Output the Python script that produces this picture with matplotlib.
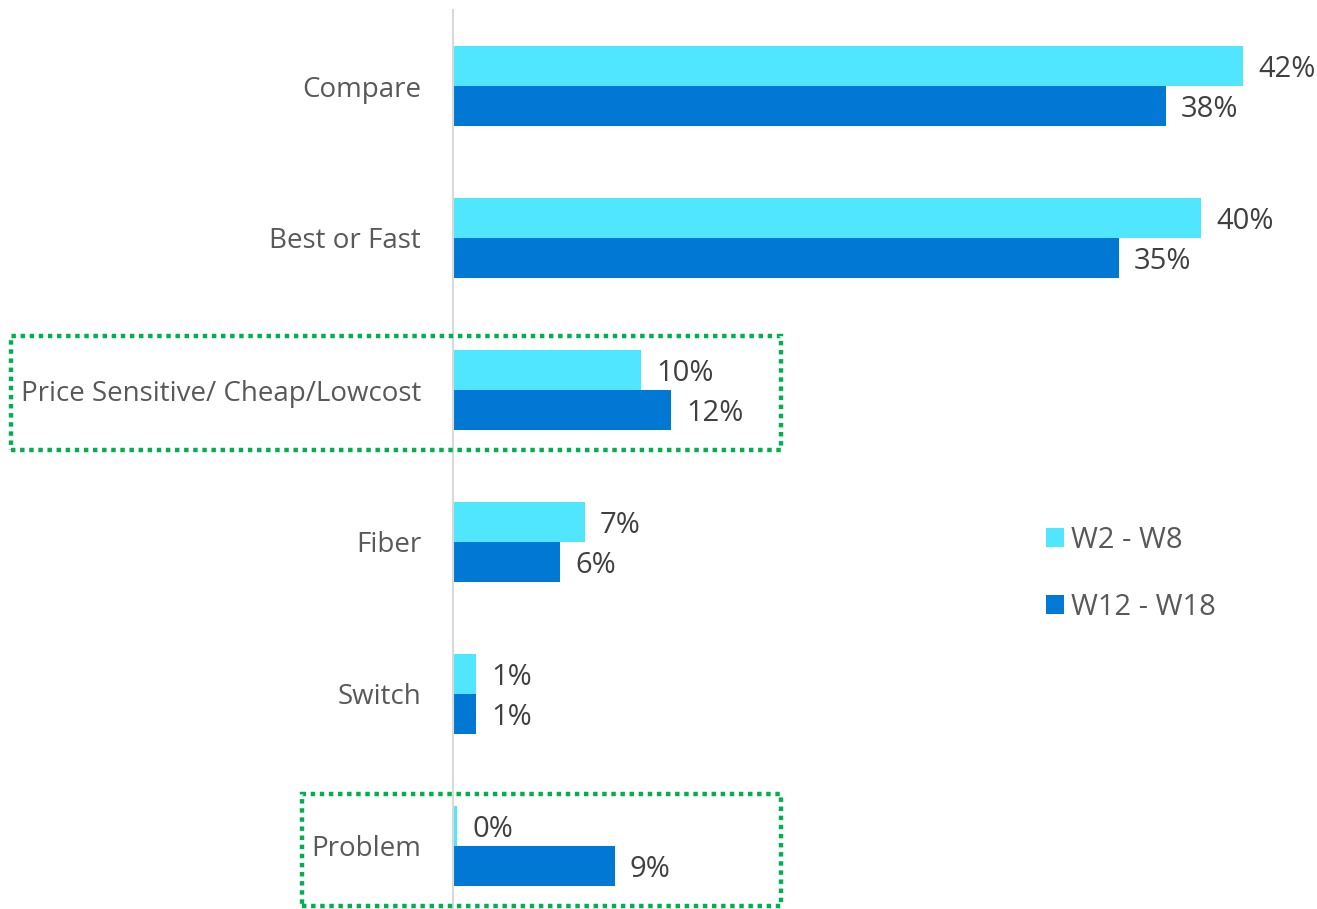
import matplotlib
matplotlib.use("Agg")
import matplotlib.pyplot as plt
from matplotlib.patches import Patch, Rectangle

plt.rcParams['font.family'] = ['Open Sans', 'DejaVu Sans']

categories = ["Compare", "Best or Fast", "Price Sensitive/ Cheap/Lowcost",
              "Fiber", "Switch", "Problem"]
series_names = ["W2 - W8", "W12 - W18"]
w2_w8 = [42.0, 39.8, 10.0, 7.0, 1.2, 0.2]
w12_w18 = [37.9, 35.4, 11.6, 5.7, 1.2, 8.6]
colors = ["#50E6FF", "#0078D4"]

W, H, DPI = 1317, 909, 100
fig = plt.figure(figsize=(W / DPI, H / DPI), dpi=DPI)

def px_box(x0, y0, x1, y1):
    """Convert a pixel box (top-left origin) into figure fractions."""
    return [x0 / W, 1 - y1 / H, (x1 - x0) / W, (y1 - y0) / H]

ax = fig.add_axes(px_box(453, 10, 1299, 922))

ypos = list(range(len(categories)))
bh = 0.263
bars1 = ax.barh([y - bh / 2 for y in ypos], w2_w8, height=bh, color=colors[0],
                label=series_names[0])
bars2 = ax.barh([y + bh / 2 for y in ypos], w12_w18, height=bh, color=colors[1],
                label=series_names[1])

for bars, vals in ((bars1, w2_w8), (bars2, w12_w18)):
    texts = ax.bar_label(bars, labels=[f"{v:.0f}%" for v in vals], padding=11,
                         fontsize=21, color="#404040")
    for t in texts:
        t.set_va("center_baseline")

ax.set_xlim(0, 45)
ax.set_ylim(len(categories) - 0.5, -0.5)
ax.set_yticks(ypos)
ax.set_yticklabels(categories, fontsize=20, color="#595959")
ax.tick_params(axis="y", length=0, pad=23)
ax.set_xticks([])
for side in ("top", "right", "bottom"):
    ax.spines[side].set_visible(False)
ax.spines["left"].set_color("#D9D9D9")
ax.spines["left"].set_linewidth(1.5)

handles = [Patch(facecolor=c, edgecolor="none") for c in colors]
leg = fig.legend(handles, series_names, loc="upper left",
                 bbox_to_anchor=(1046 / W, 1 - 526 / H), frameon=False,
                 fontsize=21, labelcolor="#595959", handlelength=0.62,
                 handleheight=0.62, handletextpad=0.25, labelspacing=1.3,
                 borderpad=0, borderaxespad=0)

# dotted highlight frames around two of the categories
for (x0, y0, x1, y1) in [(11, 336, 781, 450), (302, 794, 781, 906)]:
    fig.patches.append(Rectangle((x0 / W, 1 - y1 / H), (x1 - x0) / W, (y1 - y0) / H,
                                 transform=fig.transFigure, fill=False,
                                 edgecolor="#00B050", linewidth=3.2,
                                 linestyle=(0, (1, 1.05))))

fig.savefig("out.png", dpi=DPI)
